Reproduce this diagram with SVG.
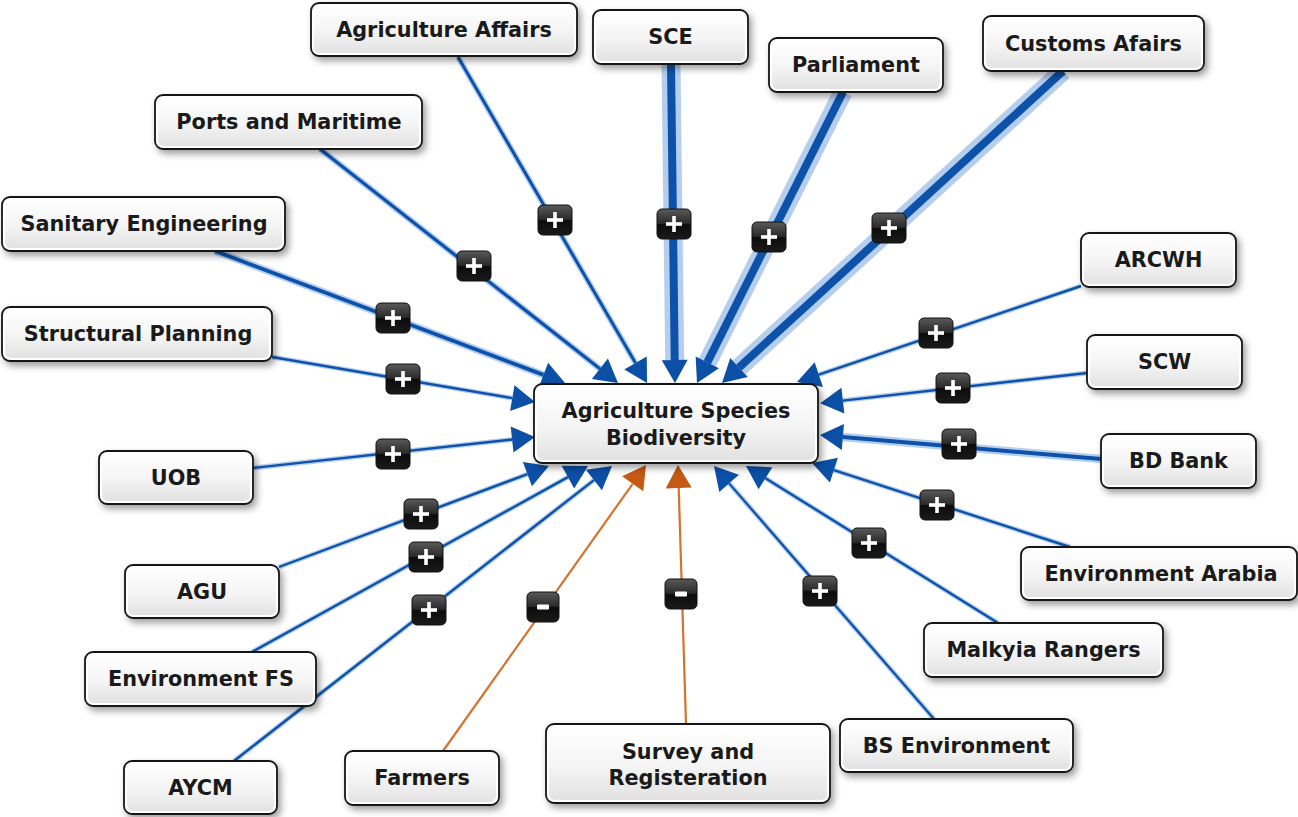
<svg xmlns="http://www.w3.org/2000/svg" xmlns:xlink="http://www.w3.org/1999/xlink" width="1298" height="817" viewBox="0 0 1298 817">
  <defs>
    <linearGradient id="boxFill" x1="0" y1="0" x2="0" y2="1">
      <stop offset="0" stop-color="#ffffff"/>
      <stop offset="0.55" stop-color="#f4f4f4"/>
      <stop offset="1" stop-color="#e2e2e2"/>
    </linearGradient>
    <linearGradient id="badgeFill" x1="0" y1="0" x2="0" y2="1">
      <stop offset="0" stop-color="#5a5a5a"/>
      <stop offset="0.48" stop-color="#2a2a2a"/>
      <stop offset="0.52" stop-color="#0c0c0c"/>
      <stop offset="1" stop-color="#1a1a1a"/>
    </linearGradient>
    <filter id="shadow" x="-10%" y="-20%" width="125%" height="160%">
      <feDropShadow dx="3" dy="4" stdDeviation="3.5" flood-color="#000" flood-opacity="0.38"/>
    </filter>
    <marker id="arrowBlue" markerUnits="userSpaceOnUse" markerWidth="24" markerHeight="26" refX="0" refY="13" orient="auto" overflow="visible">
      <path d="M0,0 L23,13 L0,26 z" fill="#0b4fa6"/>
    </marker>
    <marker id="arrowOrange" markerUnits="userSpaceOnUse" markerWidth="24" markerHeight="26" refX="0" refY="13" orient="auto" overflow="visible">
      <path d="M0,0 L23,13 L0,26 z" fill="#c45a14"/>
    </marker>
    <g id="plusBadge">
      <rect x="-17" y="-15" width="34" height="30" rx="5" fill="url(#badgeFill)" stroke="#111" stroke-width="1"/>
      <rect x="-8" y="-1.8" width="16" height="3.6" fill="#fff"/>
      <rect x="-1.8" y="-8" width="3.6" height="16" fill="#fff"/>
    </g>
    <g id="minusBadge">
      <rect x="-16" y="-15" width="32" height="30" rx="5" fill="url(#badgeFill)" stroke="#111" stroke-width="1"/>
      <rect x="-6" y="-2.5" width="12" height="5" rx="1" fill="#fff"/>
    </g>
  </defs>
  <style>
    .halo { fill: none; stroke: #a9c6ea; stroke-linecap: butt; opacity: 0.85; }
    .line { fill: none; stroke: #0d52aa; stroke-linecap: butt; marker-end: url(#arrowBlue); }
    .neg { fill: none; stroke: #d2732f; stroke-width: 2.2; marker-end: url(#arrowOrange); }
    .box { fill: #fff; stroke: #161616; stroke-width: 1.8; filter: url(#shadow); }
    .inner { fill: url(#boxFill); stroke: none; }
    .label { font-family: "DejaVu Sans", Verdana, sans-serif; font-weight: bold; font-size: 20.8px; fill: #1a1a1a; text-anchor: middle; }
  </style>

  <rect width="1298" height="817" fill="#ffffff"/>

  <!-- connectors: each runs from its source node to the arrow base at the central node -->
  <g id="connectors">
    <!-- Agriculture Affairs -->
    <path class="halo" stroke-width="6" d="M458,57 L635.5,363.1"/>
    <path class="line" stroke-width="3" d="M458,57 L635.5,363.1"/>
    <!-- SCE -->
    <path class="halo" stroke-width="19" d="M671,64 L674.7,360"/>
    <path class="line" stroke-width="8" d="M671,64 L674.7,360"/>
    <!-- Parliament -->
    <path class="halo" stroke-width="19" d="M843,92 L707.3,362.4"/>
    <path class="line" stroke-width="8" d="M843,92 L707.3,362.4"/>
    <!-- Customs Afairs -->
    <path class="halo" stroke-width="19" d="M1063,71 L739,367.5"/>
    <path class="line" stroke-width="8" d="M1063,71 L739,367.5"/>
    <!-- Ports and Maritime -->
    <path class="halo" stroke-width="6.5" d="M320,149 L599.9,368.8"/>
    <path class="line" stroke-width="3.2" d="M320,149 L599.9,368.8"/>
    <!-- Sanitary Engineering -->
    <path class="halo" stroke-width="7.5" d="M215,251 L543.5,374.9"/>
    <path class="line" stroke-width="3.8" d="M215,251 L543.5,374.9"/>
    <!-- Structural Planning -->
    <path class="halo" stroke-width="5" d="M272,357 L512.3,398.1"/>
    <path class="line" stroke-width="2.4" d="M272,357 L512.3,398.1"/>
    <!-- UOB -->
    <path class="halo" stroke-width="5" d="M253,468 L512.1,439.5"/>
    <path class="line" stroke-width="2.4" d="M253,468 L512.1,439.5"/>
    <!-- AGU -->
    <path class="halo" stroke-width="5" d="M279,567 L527.4,474.1"/>
    <path class="line" stroke-width="2.4" d="M279,567 L527.4,474.1"/>
    <!-- Environment FS -->
    <path class="halo" stroke-width="5" d="M252,652 L567.9,477.1"/>
    <path class="line" stroke-width="2.4" d="M252,652 L567.9,477.1"/>
    <!-- AYCM -->
    <path class="halo" stroke-width="5" d="M234,761 L593.9,480.1"/>
    <path class="line" stroke-width="2.4" d="M234,761 L593.9,480.1"/>
    <!-- Farmers (negative) -->
    <path class="neg" d="M443,751 L632.7,483.8"/>
    <!-- Survey and Registeration (negative) -->
    <path class="neg" d="M686,724 L678.7,488"/>
    <!-- BS Environment -->
    <path class="halo" stroke-width="5" d="M934,719 L729.1,483.4"/>
    <path class="line" stroke-width="2.2" d="M934,719 L729.1,483.4"/>
    <!-- Malkyia Rangers -->
    <path class="halo" stroke-width="5" d="M998,623 L765.5,478.2"/>
    <path class="line" stroke-width="2.4" d="M998,623 L765.5,478.2"/>
    <!-- Environment Arabia -->
    <path class="halo" stroke-width="5" d="M1070,547 L833.9,470.1"/>
    <path class="line" stroke-width="2.4" d="M1070,547 L833.9,470.1"/>
    <!-- BD Bank -->
    <path class="halo" stroke-width="8.5" d="M1101,459 L842.9,437"/>
    <path class="line" stroke-width="4" d="M1101,459 L842.9,437"/>
    <!-- SCW -->
    <path class="halo" stroke-width="5" d="M1087,373 L842.9,400.6"/>
    <path class="line" stroke-width="2.4" d="M1087,373 L842.9,400.6"/>
    <!-- ARCWH -->
    <path class="halo" stroke-width="5" d="M1081,286 L818.8,374.6"/>
    <path class="line" stroke-width="2.4" d="M1081,286 L818.8,374.6"/>

    <!-- polarity badges -->
    <use href="#plusBadge" x="555" y="220"/>
    <use href="#plusBadge" x="674" y="224"/>
    <use href="#plusBadge" x="769" y="237"/>
    <use href="#plusBadge" x="889" y="228"/>
    <use href="#plusBadge" x="474" y="266"/>
    <use href="#plusBadge" x="393" y="318"/>
    <use href="#plusBadge" x="403" y="379"/>
    <use href="#plusBadge" x="393" y="454"/>
    <use href="#plusBadge" x="421" y="514"/>
    <use href="#plusBadge" x="426" y="557"/>
    <use href="#plusBadge" x="429" y="610"/>
    <use href="#minusBadge" x="543" y="607"/>
    <use href="#minusBadge" x="681" y="594"/>
    <use href="#plusBadge" x="820" y="591"/>
    <use href="#plusBadge" x="869" y="543"/>
    <use href="#plusBadge" x="937" y="505"/>
    <use href="#plusBadge" x="959" y="444"/>
    <use href="#plusBadge" x="953" y="388"/>
    <use href="#plusBadge" x="936" y="333"/>
  </g>

  <!-- nodes -->
  <g id="node-agriculture-affairs">
    <rect class="box" x="311" y="3" width="266" height="53" rx="8"/>
    <rect class="inner" x="314" y="6" width="260" height="47" rx="6"/>
    <text class="label" x="444" y="37">Agriculture Affairs</text>
  </g>
  <g id="node-sce">
    <rect class="box" x="593" y="10" width="155" height="54" rx="8"/>
    <rect class="inner" x="596" y="13" width="149" height="48" rx="6"/>
    <text class="label" x="670.5" y="44">SCE</text>
  </g>
  <g id="node-parliament">
    <rect class="box" x="769" y="38" width="174" height="54" rx="8"/>
    <rect class="inner" x="772" y="41" width="168" height="48" rx="6"/>
    <text class="label" x="856" y="72">Parliament</text>
  </g>
  <g id="node-customs-afairs">
    <rect class="box" x="983" y="16" width="221" height="55" rx="8"/>
    <rect class="inner" x="986" y="19" width="215" height="49" rx="6"/>
    <text class="label" x="1093.5" y="51">Customs Afairs</text>
  </g>
  <g id="node-ports-and-maritime">
    <rect class="box" x="155" y="95" width="267" height="54" rx="8"/>
    <rect class="inner" x="158" y="98" width="261" height="48" rx="6"/>
    <text class="label" x="289" y="129">Ports and Maritime</text>
  </g>
  <g id="node-sanitary-engineering">
    <rect class="box" x="2" y="197" width="283" height="54" rx="8"/>
    <rect class="inner" x="5" y="200" width="277" height="48" rx="6"/>
    <text class="label" x="144" y="231">Sanitary Engineering</text>
  </g>
  <g id="node-structural-planning">
    <rect class="box" x="2" y="307" width="270" height="54" rx="8"/>
    <rect class="inner" x="5" y="310" width="264" height="48" rx="6"/>
    <text class="label" x="138" y="341">Structural Planning</text>
  </g>
  <g id="node-uob">
    <rect class="box" x="99" y="451" width="154" height="53" rx="8"/>
    <rect class="inner" x="102" y="454" width="148" height="47" rx="6"/>
    <text class="label" x="176" y="485">UOB</text>
  </g>
  <g id="node-agu">
    <rect class="box" x="125" y="565" width="154" height="53" rx="8"/>
    <rect class="inner" x="128" y="568" width="148" height="47" rx="6"/>
    <text class="label" x="202" y="599">AGU</text>
  </g>
  <g id="node-environment-fs">
    <rect class="box" x="85" y="652" width="231" height="54" rx="8"/>
    <rect class="inner" x="88" y="655" width="225" height="48" rx="6"/>
    <text class="label" x="201" y="686">Environment FS</text>
  </g>
  <g id="node-aycm">
    <rect class="box" x="124" y="761" width="153" height="53" rx="8"/>
    <rect class="inner" x="127" y="764" width="147" height="47" rx="6"/>
    <text class="label" x="200.5" y="795">AYCM</text>
  </g>
  <g id="node-farmers">
    <rect class="box" x="345" y="751" width="154" height="54" rx="8"/>
    <rect class="inner" x="348" y="754" width="148" height="48" rx="6"/>
    <text class="label" x="422" y="785">Farmers</text>
  </g>
  <g id="node-survey-and-registeration">
    <rect class="box" x="546" y="724" width="284" height="79" rx="8"/>
    <rect class="inner" x="549" y="727" width="278" height="73" rx="6"/>
    <text class="label" x="688" y="759">Survey and</text>
    <text class="label" x="688" y="785">Registeration</text>
  </g>
  <g id="node-bs-environment">
    <rect class="box" x="840" y="719" width="233" height="53" rx="8"/>
    <rect class="inner" x="843" y="722" width="227" height="47" rx="6"/>
    <text class="label" x="956.5" y="753">BS Environment</text>
  </g>
  <g id="node-malkyia-rangers">
    <rect class="box" x="924" y="623" width="239" height="54" rx="8"/>
    <rect class="inner" x="927" y="626" width="233" height="48" rx="6"/>
    <text class="label" x="1043.5" y="657">Malkyia Rangers</text>
  </g>
  <g id="node-environment-arabia">
    <rect class="box" x="1021" y="547" width="276" height="53" rx="8"/>
    <rect class="inner" x="1024" y="550" width="270" height="47" rx="6"/>
    <text class="label" x="1161" y="581">Environment Arabia</text>
  </g>
  <g id="node-bd-bank">
    <rect class="box" x="1101" y="434" width="155" height="54" rx="8"/>
    <rect class="inner" x="1104" y="437" width="149" height="48" rx="6"/>
    <text class="label" x="1178.5" y="468">BD Bank</text>
  </g>
  <g id="node-scw">
    <rect class="box" x="1087" y="335" width="155" height="54" rx="8"/>
    <rect class="inner" x="1090" y="338" width="149" height="48" rx="6"/>
    <text class="label" x="1164.5" y="369">SCW</text>
  </g>
  <g id="node-arcwh">
    <rect class="box" x="1081" y="233" width="155" height="54" rx="8"/>
    <rect class="inner" x="1084" y="236" width="149" height="48" rx="6"/>
    <text class="label" x="1158.5" y="267">ARCWH</text>
  </g>
  <g id="node-agriculture-species-biodiversity">
    <rect class="box" x="534" y="384" width="284" height="79" rx="8"/>
    <rect class="inner" x="537" y="387" width="278" height="73" rx="6"/>
    <text class="label" x="676" y="418">Agriculture Species</text>
    <text class="label" x="676" y="445">Biodiversity</text>
  </g>
</svg>
